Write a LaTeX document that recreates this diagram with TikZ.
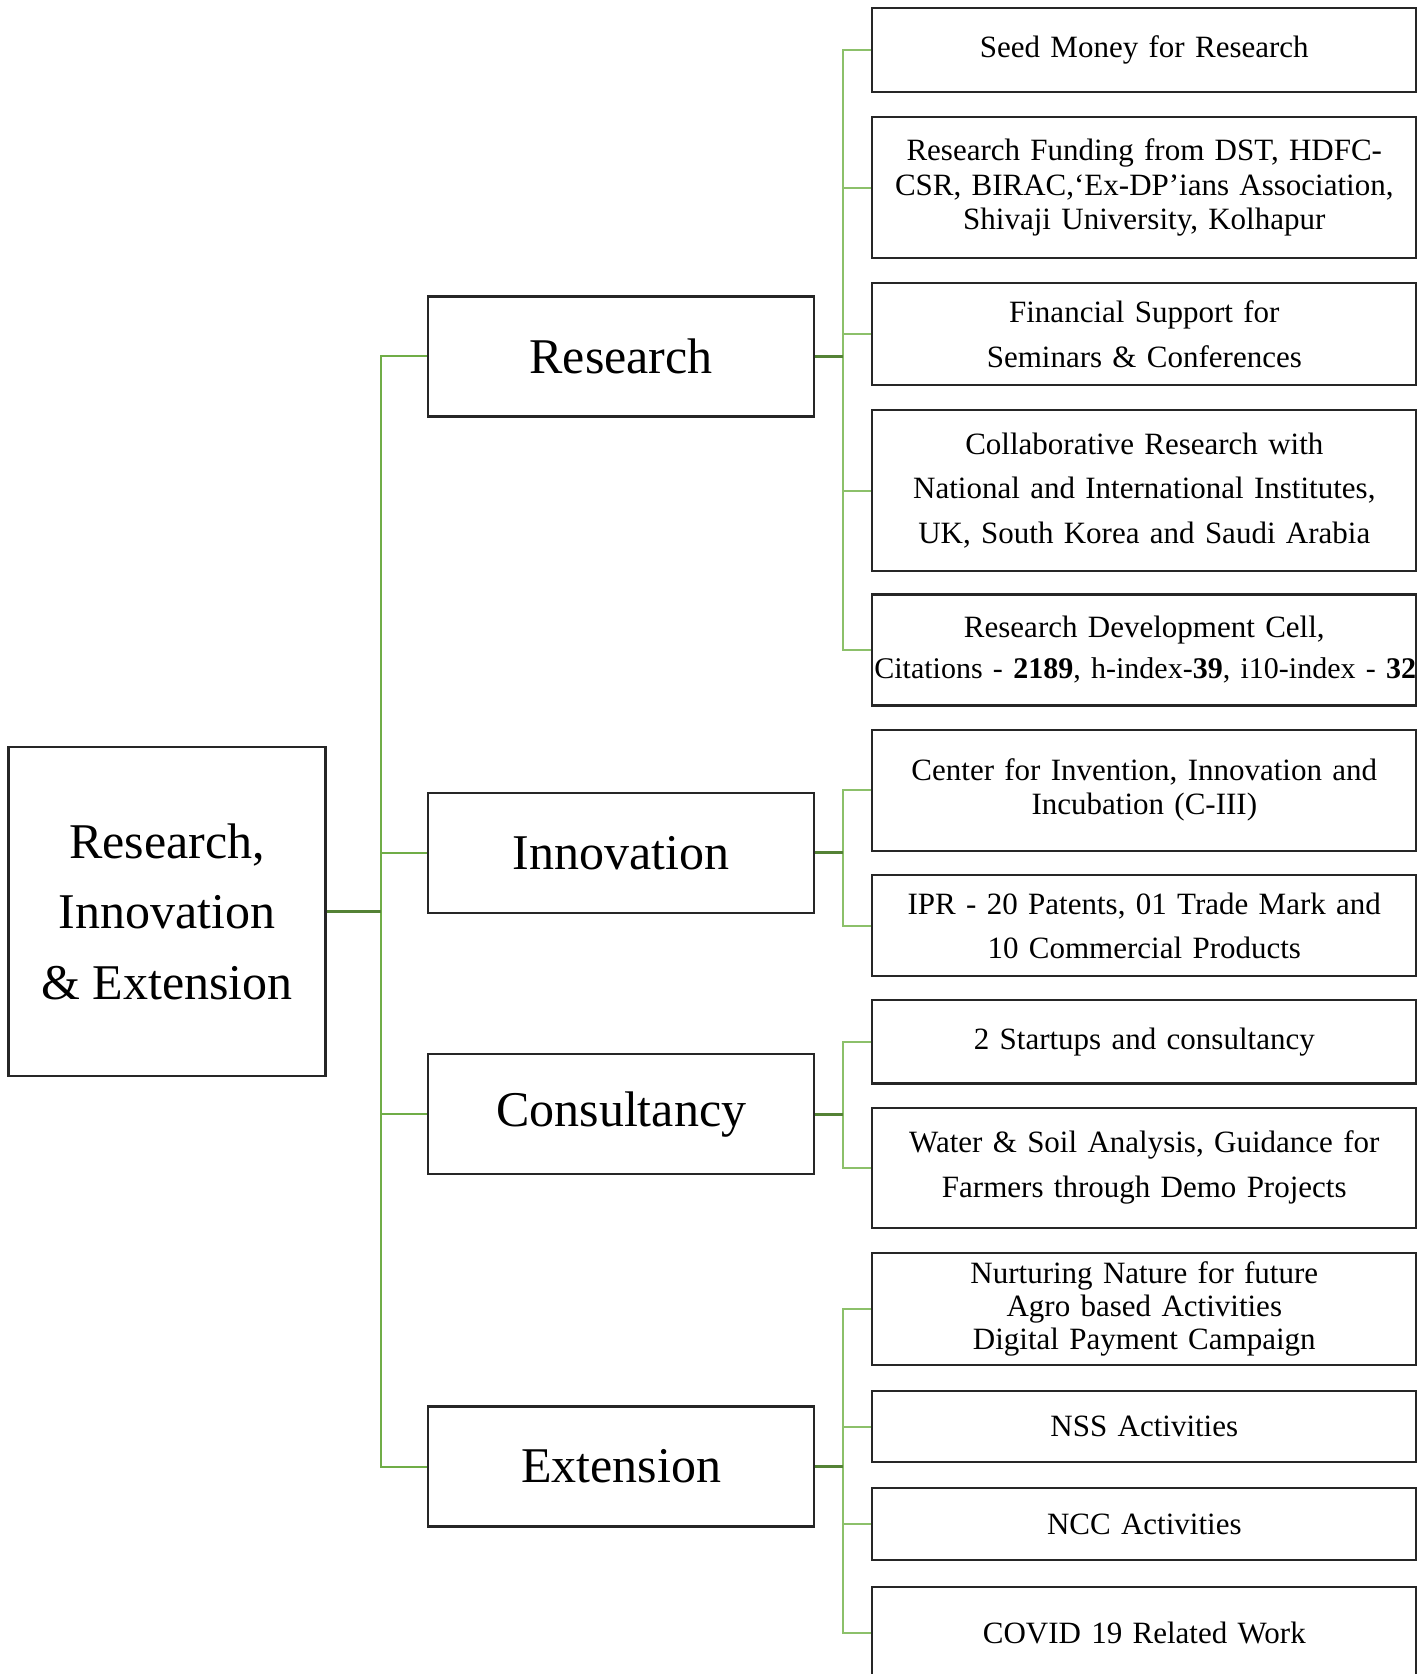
\documentclass[tikz,border=0pt]{standalone}
\usepackage{fontspec}
\setmainfont{Liberation Serif}

\definecolor{busgreen}{RGB}{112,173,71}
\definecolor{leafgreen}{RGB}{140,192,106}
\definecolor{stubgreen}{RGB}{84,130,53}

\tikzset{every picture/.style={line width=0.75pt}}
\tikzset{
  rootbox/.style={draw=black!85, line width=1.1pt, minimum width=158.5pt, minimum height=164.5pt, inner sep=0pt, align=center, font=\fontsize{25}{35.3}\selectfont},
  midbox/.style={draw=black!85, line width=1.1pt, minimum width=193pt, minimum height=60pt, inner sep=0pt, font=\fontsize{25}{30}\selectfont},
  leafbox/.style={draw=black!85, line width=1.1pt, minimum width=272pt, minimum height=#1, text width=270pt, inner sep=0pt, align=center},
  lines/.style={font=\fontsize{15.5}{#1}\selectfont},
  busline/.style={draw=busgreen, line width=1pt},
  leafline/.style={draw=leafgreen, line width=1pt},
  stubline/.style={draw=stubgreen, line width=1.5pt}
}

\begin{document}
\begin{tikzpicture}[x=0.5pt,y=0.5pt,yscale=-1,xscale=1]
\useasboundingbox (0,0) rectangle (1426,1674);

% Root Node
\draw (167,911.5) node [rootbox] (root) {Research,\\ Innovation\\ \& Extension};

% Text Node
\draw (621.2,356.5) node [midbox] (research) {Research};
% Text Node
\draw (621.2,852.8) node [midbox] (innovation) {Innovation};
% Text Node
\draw (621.2,1114.3) node [midbox] (consultancy) {Consultancy};
% Text Node
\draw (621.2,1466.5) node [midbox] (extension) {Extension};

% Text Node
\draw (1144.3,50) node [leafbox=41.7pt, lines=18] (seed) {Seed Money for Research};
% Text Node
\draw (1144.3,187.8) node [leafbox=70.5pt, lines=17.3] (funding) {Research Funding from DST, HDFC-\\CSR, BIRAC,‘Ex-DP’ians Association,\\Shivaji University, Kolhapur};
% Text Node
\draw (1144.3,334) node [leafbox=51.2pt, lines=22.5] (finsupport) {Financial Support for\\Seminars \& Conferences};
% Text Node
\draw (1144.3,490.5) node [leafbox=80.5pt, lines=22.2] (collab) {Collaborative Research with\\National and International Institutes,\\UK, South Korea and Saudi Arabia};
% Text Node
\draw (1144.3,650) node [leafbox=55.5pt, lines=20.5] (rdc) {Research Development Cell,\\{\fontsize{15}{20.5}\selectfont\mbox{Citations - \textbf{2189}, h-index-\textbf{39}, i10-index - \textbf{32}}}};
% Text Node
\draw (1144.3,790.3) node [leafbox=60.3pt, lines=17] (ciii) {Center for Invention, Innovation and\\Incubation (C-III)};
% Text Node
\draw (1144.3,925.5) node [leafbox=50.2pt, lines=22] (ipr) {IPR - 20 Patents, 01 Trade Mark and\\10 Commercial Products};
% Text Node
\draw (1144.3,1041.7) node [leafbox=41.7pt, lines=18] (startups) {2 Startups and consultancy};
% Text Node
\draw (1144.3,1167.8) node [leafbox=59.8pt, lines=22.5] (water) {Water \& Soil Analysis, Guidance for\\Farmers through Demo Projects};
% Text Node
\draw (1144.3,1309) node [leafbox=56pt, lines=16.3] (nurture) {Nurturing Nature for future\\Agro based Activities\\Digital Payment Campaign};
% Text Node
\draw (1144.3,1426.5) node [leafbox=35.5pt, lines=18] (nss) {NSS Activities};
% Text Node
\draw (1144.3,1524) node [leafbox=36.3pt, lines=18] (ncc) {NCC Activities};
% Text Node
\draw (1144.3,1633) node [leafbox=46pt, lines=18] (covid) {COVID 19 Related Work};

% Bus Points
\coordinate (mainbus) at (381,911.5);
\coordinate (resbus) at (843,356.5);
\coordinate (innbus) at (843,852.8);
\coordinate (conbus) at (843,1114.3);
\coordinate (extbus) at (843,1466.5);

%Straight Lines
\draw [busline] (mainbus) |- (research.west);
\draw [busline] (mainbus) |- (innovation.west);
\draw [busline] (mainbus) |- (consultancy.west);
\draw [busline] (mainbus) |- (extension.west);
\draw [stubline] (root.east) -- (mainbus);

%Straight Lines
\draw [leafline] (resbus) |- (seed.west);
\draw [leafline] (resbus) |- (funding.west);
\draw [leafline] (resbus) |- (finsupport.west);
\draw [leafline] (resbus) |- (collab.west);
\draw [leafline] (resbus) |- (rdc.west);
\draw [leafline] (innbus) |- (ciii.west);
\draw [leafline] (innbus) |- (ipr.west);
\draw [leafline] (conbus) |- (startups.west);
\draw [leafline] (conbus) |- (water.west);
\draw [leafline] (extbus) |- (nurture.west);
\draw [leafline] (extbus) |- (nss.west);
\draw [leafline] (extbus) |- (ncc.west);
\draw [leafline] (extbus) |- (covid.west);

%Straight Lines
\draw [stubline] (research.east) -- (resbus);
\draw [stubline] (innovation.east) -- (innbus);
\draw [stubline] (consultancy.east) -- (conbus);
\draw [stubline] (extension.east) -- (extbus);

\end{tikzpicture}
\end{document}
